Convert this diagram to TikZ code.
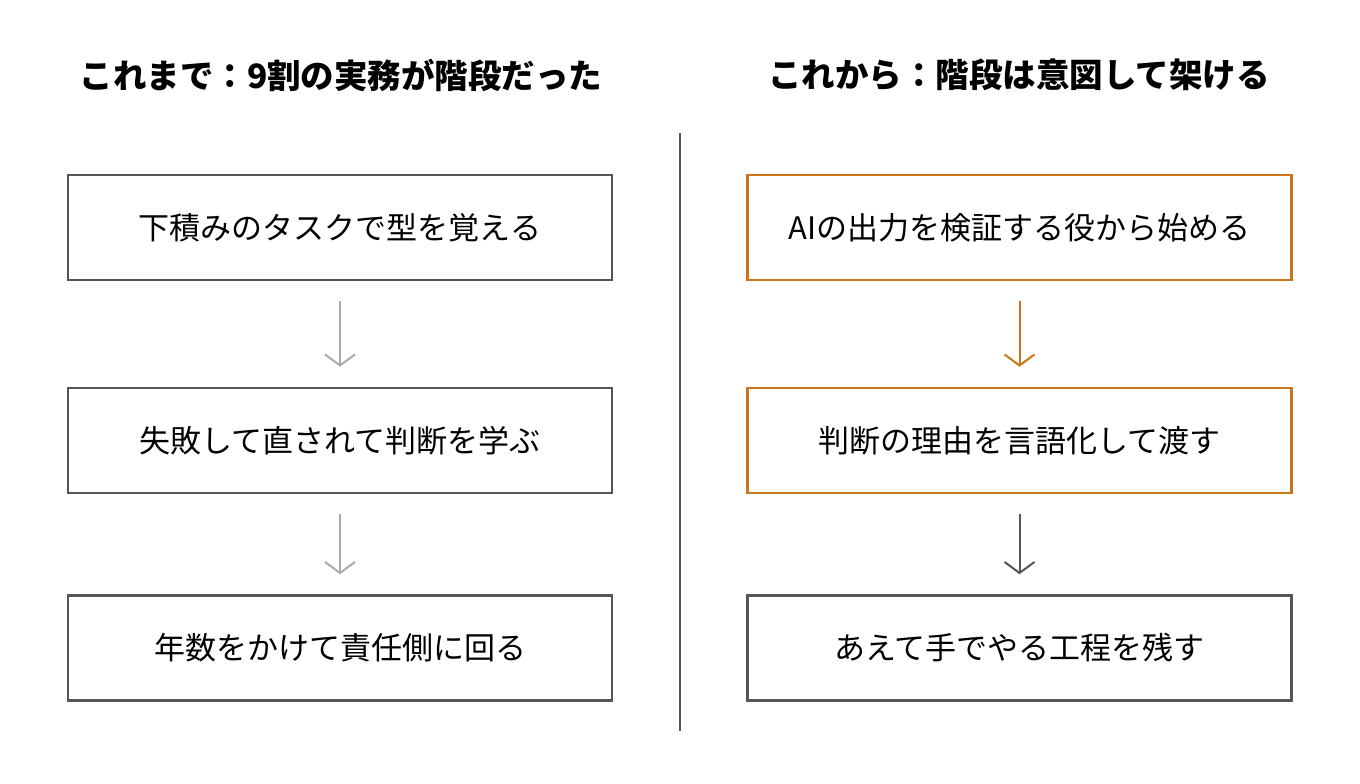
\documentclass[tikz,border=0pt]{standalone}
\usepackage{fontspec}
\setmainfont{Noto Sans CJK JP}
\usetikzlibrary{arrows.meta}
\definecolor{bx}{HTML}{555555}
\definecolor{og}{HTML}{C8781A}
\definecolor{lg}{HTML}{AAAAAA}
\begin{document}
\begin{tikzpicture}[x=1pt,y=-1pt,
 box/.style={draw=bx,line width=2.6pt,minimum width=544pt,minimum height=105pt,inner sep=0,font=\fontsize{31}{36}\selectfont},
 obox/.style={box,draw=og},
 ttl/.style={font=\bfseries\fontsize{33.5}{40}\selectfont},
 ar/.style={-{Straight Barb[length=11pt,width=30pt]},line width=2pt}]
\useasboundingbox[fill=white] (0,0) rectangle (1360,784);
\node[ttl] (t1) at (341,75) {これまで：9割の実務が階段だった};
\node[ttl] (t2) at (1019,75) {これから：階段は意図して架ける};
\coordinate (d1) at (680,133); \coordinate (d2) at (680,731);
\draw[bx,line width=2.5pt] (d1) -- (d2);
\node[box] (l1) at (340,227.5) {下積みのタスクで型を覚える};
\node[box] (l2) at (340,440.5) {失敗して直されて判断を学ぶ};
\node[box] (l3) at (340,648) {年数をかけて責任側に回る};
\node[obox] (r1) at (1019.5,227.5) {AIの出力を検証する役から始める};
\node[obox] (r2) at (1019.5,440.5) {判断の理由を言語化して渡す};
\node[box] (r3) at (1019.5,648) {あえて手でやる工程を残す};
\draw[ar,lg] ([yshift=-20pt]l1.south) -- ([yshift=20pt]l2.north);
\draw[ar,lg] ([yshift=-20pt]l2.south) -- ([yshift=20pt]l3.north);
\draw[ar,og] ([yshift=-20pt]r1.south) -- ([yshift=20pt]r2.north);
\draw[ar,bx] ([yshift=-20pt]r2.south) -- ([yshift=20pt]r3.north);
\end{tikzpicture}
\end{document}
